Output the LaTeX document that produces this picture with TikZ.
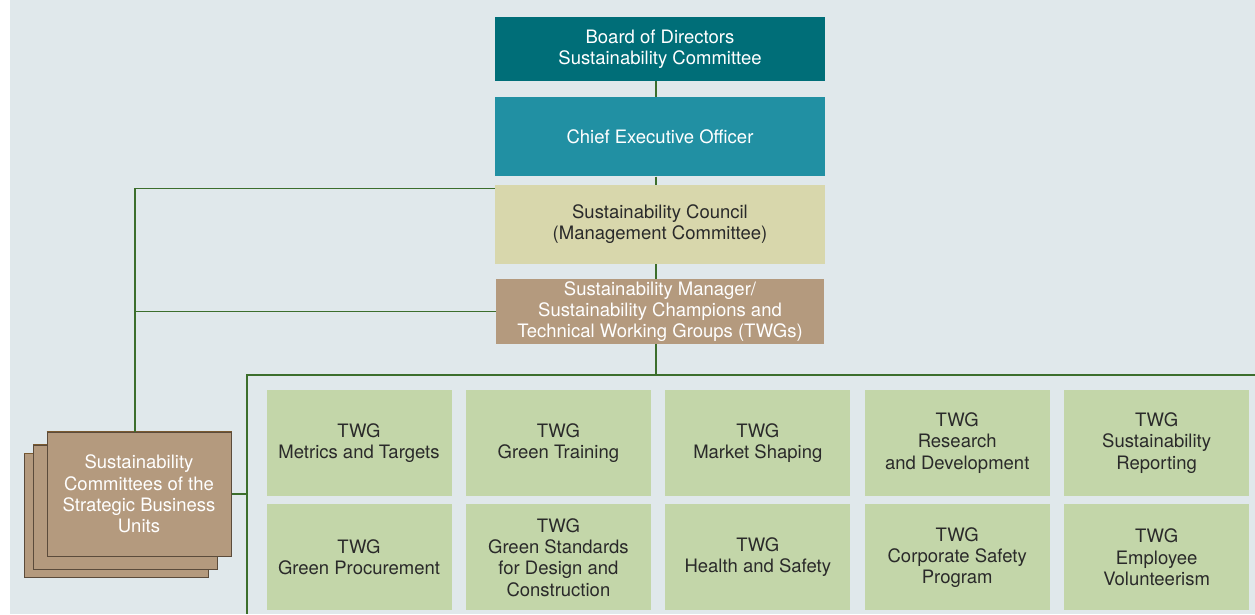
\documentclass[tikz,border=0pt]{standalone}
\usepackage{fontspec}
\setmainfont{TeX Gyre Heros}
\usetikzlibrary{positioning}

\definecolor{bgcol}{HTML}{E0E8EB}
\definecolor{boardcol}{HTML}{006E78}
\definecolor{ceocol}{HTML}{2190A3}
\definecolor{councilcol}{HTML}{D8D7AC}
\definecolor{mgrcol}{HTML}{B49A7E}
\definecolor{sbuedge}{HTML}{5B4B3B}
\definecolor{sbutop}{HTML}{7A5A30}
\definecolor{twgcol}{HTML}{C3D6A9}
\definecolor{linecol}{HTML}{3C6E2C}
\definecolor{txtcol}{HTML}{2A2A2A}

\begin{document}
\begin{tikzpicture}[
    x=1pt, y=1pt,
    node distance=8pt and 14pt,
    every node/.style={font=\fontsize{18.5}{21.3}\selectfont},
    box/.style={rectangle, align=center, inner sep=2pt, minimum width=330pt},
    twg/.style={rectangle, fill=twgcol, text=txtcol, align=center, inner sep=2pt, minimum width=185pt, minimum height=106pt},
    stack/.style={rectangle, fill=mgrcol, draw=sbuedge, line width=1pt, minimum width=184pt, minimum height=124pt},
    link/.style={draw=linecol, line width=1.4pt}
  ]

  % ============ CANVAS ============
  \useasboundingbox (0,0) rectangle (1255,-614);
  \fill[bgcol] (10,0) rectangle (1255,-614);

  % ============ MANAGEMENT CHAIN ============
  \node[box, fill=boardcol, text=white, minimum height=64pt] (board) at (660,-49) {Board of Directors\\Sustainability Committee};
  \node[box, fill=ceocol, text=white, minimum height=79pt, below=16pt of board] (ceo) {Chief Executive Officer};
  \node[box, fill=councilcol, text=txtcol, minimum height=79pt, below=8pt of ceo] (council) {Sustainability Council\\(Management Committee)};
  \node[box, fill=mgrcol, text=white, minimum width=328pt, minimum height=64pt, below=15pt of council] (manager) {Sustainability Manager/\\Sustainability Champions and\\Technical Working Groups (TWGs)};

  % ============ BUSINESS UNITS (stacked) ============
  \node[stack] (sbu3) at (116.5,-515.5) {};
  \draw[sbutop, line width=1pt] (sbu3.north west) -- (sbu3.north east);
  \node[stack] (sbu2) at (125.5,-507) {};
  \draw[sbutop, line width=1pt] (sbu2.north west) -- (sbu2.north east);
  \node[stack, text=white, align=center] (sbu) at (139,-494) {Sustainability\\Committees of the\\Strategic Business\\Units};
  \draw[sbutop, line width=1pt] (sbu.north west) -- (sbu.north east);

  % ============ TWG FRAME ============
  \coordinate (ftl) at (247,-375);
  \coordinate (fr) at (1255,-375);
  \coordinate (fb) at (247,-614);

  % ============ TECHNICAL WORKING GROUPS ============
  % first row
  \node[twg] (metrics) at (359,-443) {TWG\\Metrics and Targets};
  \node[twg, right=of metrics] (training) {TWG\\Green Training};
  \node[twg, right=of training] (market) {TWG\\Market Shaping};
  \node[twg, right=of market] (research) {TWG\\Research\\and Development};
  \node[twg, right=of research] (reporting) {TWG\\Sustainability\\Reporting};

  % second row
  \node[twg, below=of metrics] (procure) {TWG\\Green Procurement};
  \node[twg, right=of procure] (standards) {TWG\\Green Standards\\for Design and\\Construction};
  \node[twg, right=of standards] (health) {TWG\\Health and Safety};
  \node[twg, right=of health] (safety) {TWG\\Corporate Safety\\Program};
  \node[twg, right=of safety] (volunteer) {TWG\\Employee\\Volunteerism};

  % ============ CONNECTORS ============
  \draw[link] ([xshift=-4pt]board.south) -- ([xshift=-4pt]ceo.north);
  \draw[link] ([xshift=-4pt]ceo.south) -- ([xshift=-4pt]council.north);
  \draw[link] ([xshift=-4pt]council.south) -- ([xshift=-4pt]manager.north);
  \draw[link] ([xshift=-4pt]manager.south) -- ([xshift=-4pt]manager.south |- ftl);
  \draw[link] (fr) -- (ftl) -- (fb);
  \draw[link] ([yshift=-4pt]council.north west) -| ([xshift=-4pt]sbu.north);
  \draw[link] (manager.west) -- ([xshift=-4pt]sbu.north |- manager.west);
  \draw[link] (sbu.east) -- (sbu.east -| ftl);

\end{tikzpicture}
\end{document}
